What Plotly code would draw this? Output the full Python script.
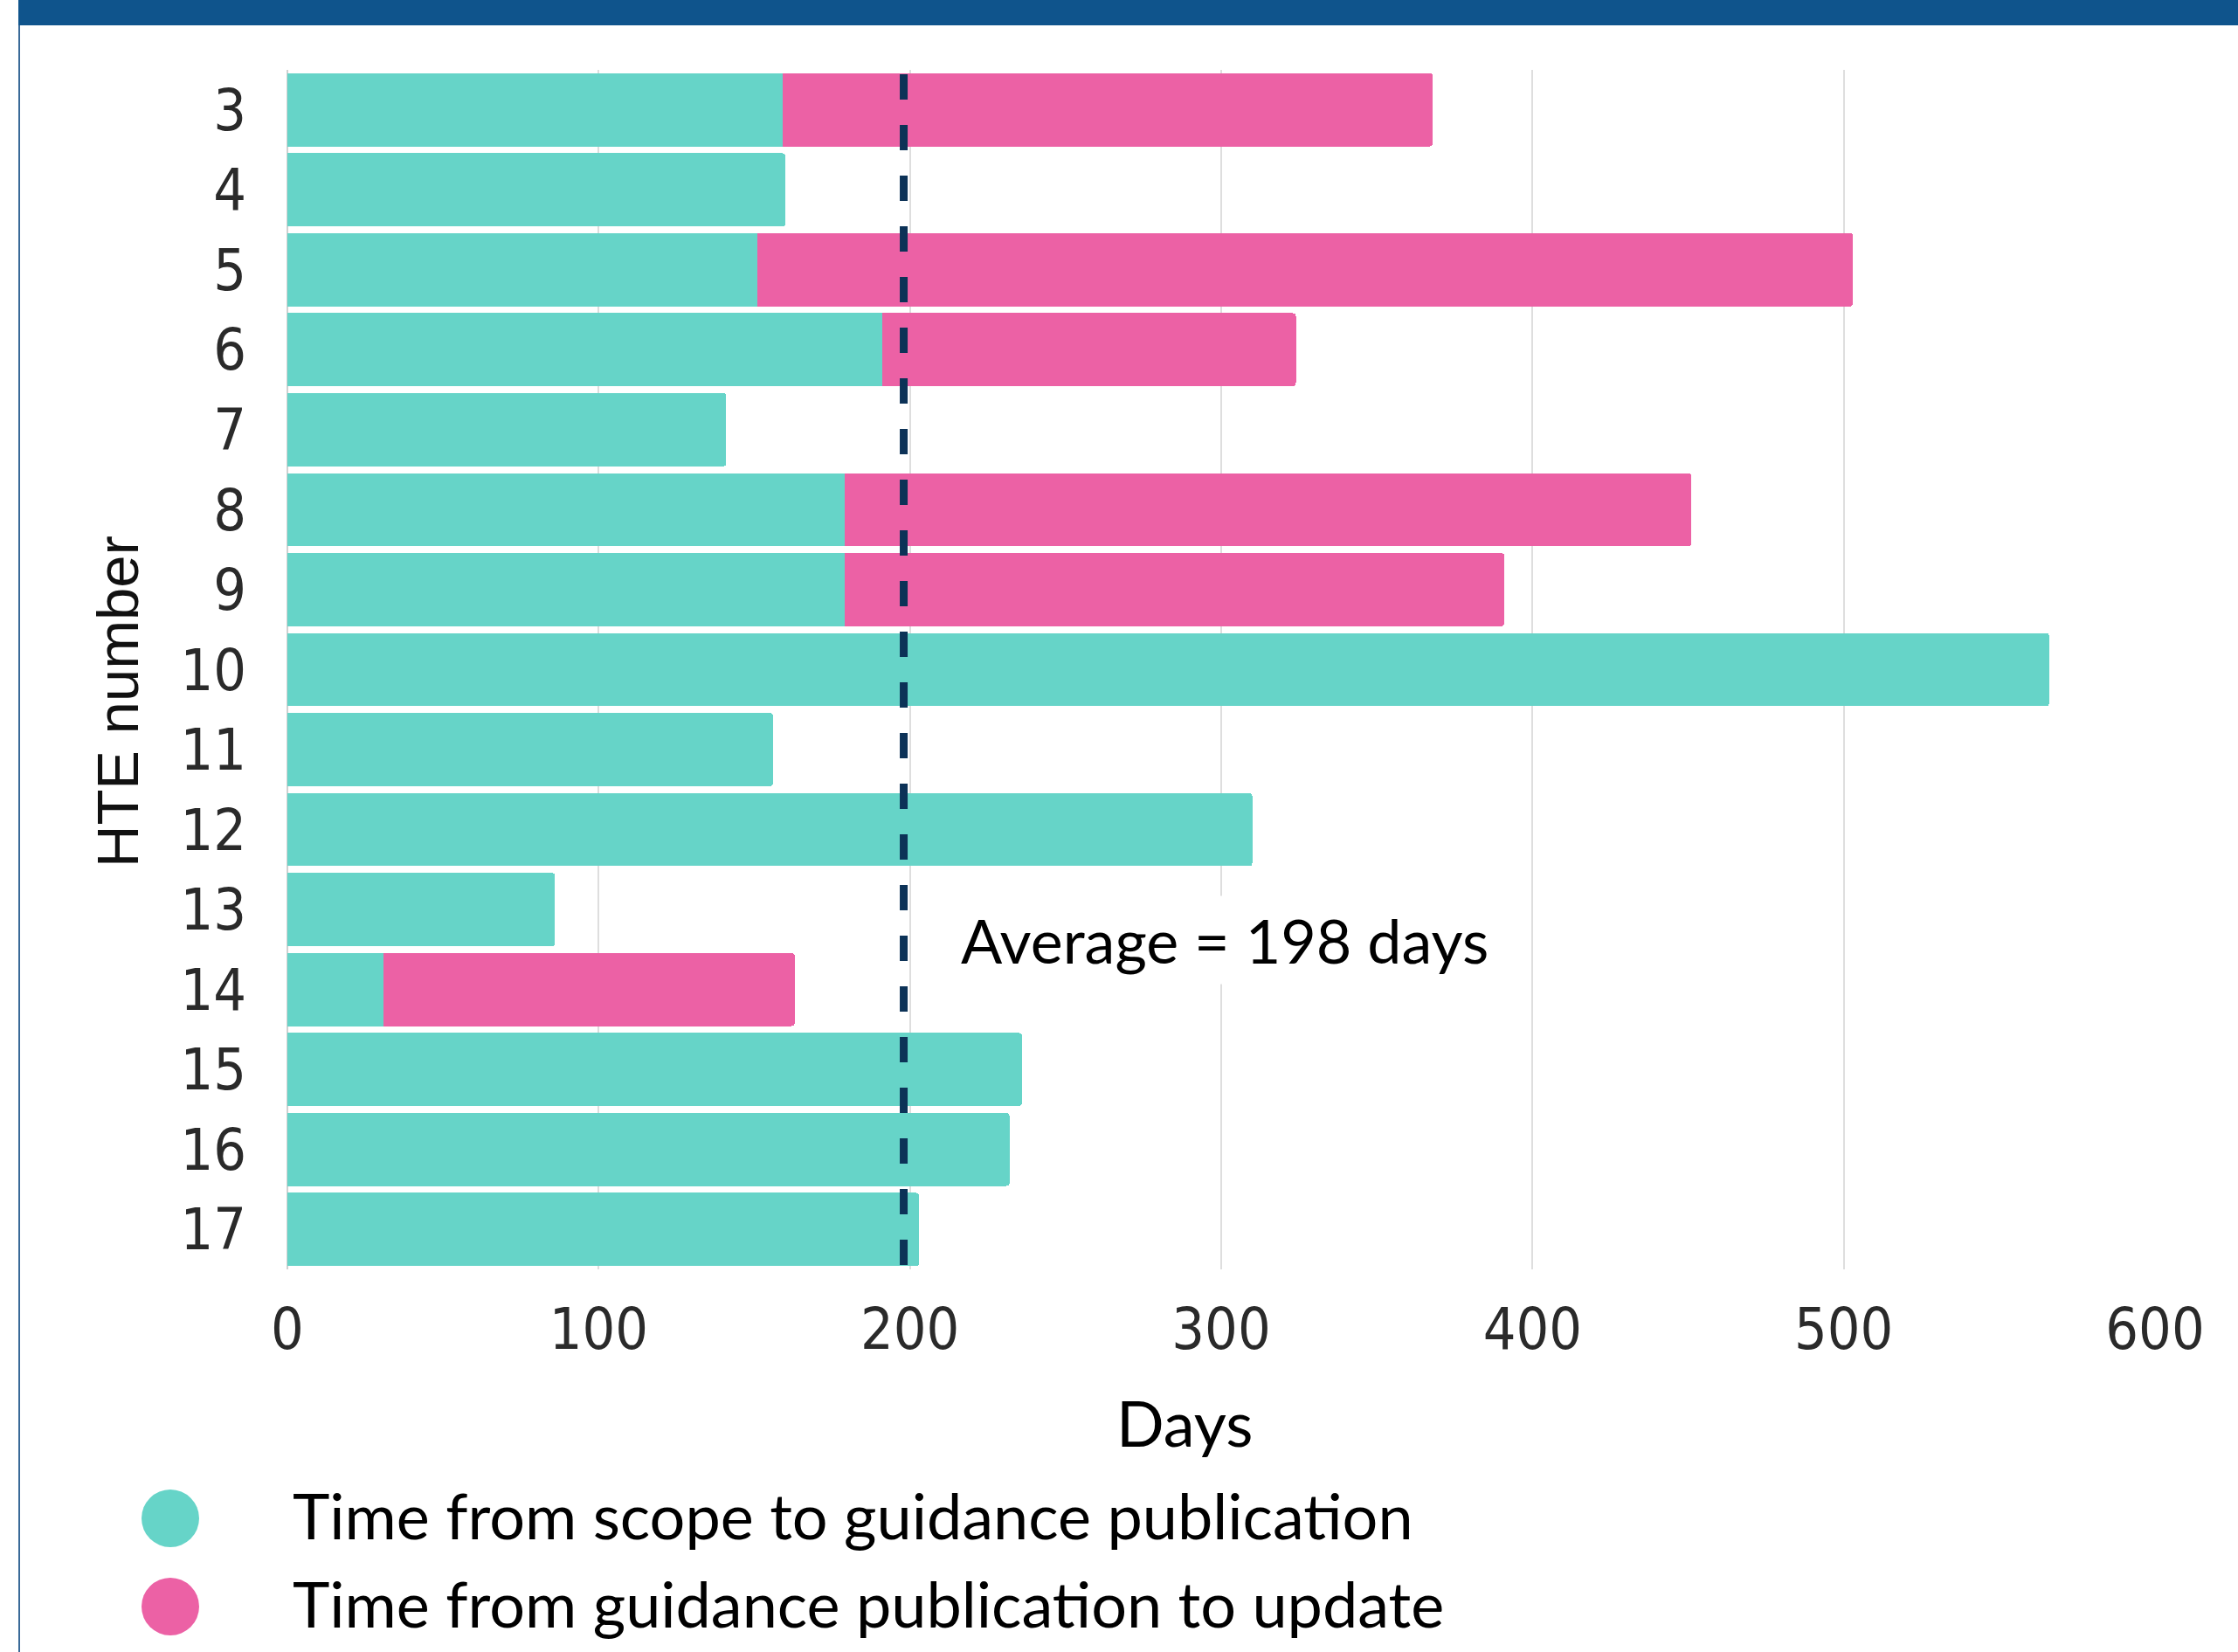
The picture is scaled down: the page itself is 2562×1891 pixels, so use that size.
import plotly.graph_objects as go

# HTE numbers shown on the vertical axis (top to bottom)
hte_numbers = ["3", "4", "5", "6", "7", "8", "9", "10", "11", "12", "13", "14", "15", "16", "17"]

# Days from scope to guidance publication
scope_to_publication = [159, 160, 151, 191, 141, 179, 179, 566, 156, 310, 86, 31, 236, 232, 203]

# Days from guidance publication to update (0 = no update yet)
publication_to_update = [209, 0, 352, 133, 0, 272, 212, 0, 0, 0, 0, 132, 0, 0, 0]

average_days = 198
x_ticks = [0, 100, 200, 300, 400, 500, 600]

series_names = [
    "Time from scope to guidance publication",
    "Time from guidance publication to update",
]

TEAL = "#66D4C8"
PINK = "#EC61A5"
HEADER_BLUE = "#0F548C"
DASH_NAVY = "#0C3257"
TEXT_FONT = "Lato, Open Sans, sans-serif"
TICK_FONT = "DejaVu Sans Condensed, Liberation Sans Narrow, Liberation Sans, sans-serif"

W, H = 2562, 1891
L, R, T, B = 329, 95, 80, 438
PW, PH = W - L - R, H - T - B


def px(x):
    return (x - L) / PW


def py(y):
    return (H - B - y) / PH


fig = go.Figure()
fig.add_trace(go.Bar(
    y=hte_numbers, x=scope_to_publication, orientation="h",
    marker=dict(color=TEAL, line=dict(width=0)), name=series_names[0],
    showlegend=False,
))
fig.add_trace(go.Bar(
    y=hte_numbers, x=publication_to_update, orientation="h",
    marker=dict(color=PINK, line=dict(width=0)), name=series_names[1],
    showlegend=False,
))

shapes = [
    # header band and left rule
    dict(type="rect", xref="paper", yref="paper", x0=px(21), x1=px(W + 5),
         y0=py(0) + 0.01, y1=py(29), fillcolor=HEADER_BLUE, line=dict(width=0), layer="above"),
    dict(type="line", xref="paper", yref="paper", x0=px(22), x1=px(22),
         y0=py(29), y1=py(H + 5), line=dict(color="#3A6A98", width=2)),
    # average marker
    dict(type="line", xref="x", yref="paper", x0=average_days, x1=average_days,
         y0=py(85), y1=0, line=dict(color=DASH_NAVY, width=9, dash="29px,29px"),
         layer="above"),
]

legend_colors = [TEAL, PINK]
legend_y = [1738, 1839]
for c, yc in zip(legend_colors, legend_y):
    shapes.append(dict(type="circle", xref="paper", yref="paper",
                       x0=px(195 - 33), x1=px(195 + 33), y0=py(yc + 33), y1=py(yc - 33),
                       fillcolor=c, line=dict(width=0)))

annotations = [
    dict(xref="paper", yref="paper", x=px(1091), y=py(1076),
         text=f"Average = {average_days} days", showarrow=False,
         xanchor="left", yanchor="middle", bgcolor="white", borderpad=8,
         font=dict(family=TEXT_FONT, size=70, color="#000000")),
    dict(xref="paper", yref="paper", x=px(1356), y=py(1628), text="Days",
         showarrow=False, xanchor="center", yanchor="middle",
         font=dict(family=TEXT_FONT, size=72, color="#000000")),
    dict(xref="paper", yref="paper", x=px(135), y=py(803), text="HTE number",
         textangle=-90, showarrow=False, xanchor="center", yanchor="middle",
         font=dict(family="Liberation Sans, Arial, sans-serif", size=67, color="#111111")),
]
for name, yc in zip(series_names, legend_y):
    annotations.append(dict(xref="paper", yref="paper", x=px(333), y=py(yc - 4),
                            text=name, showarrow=False, xanchor="left", yanchor="middle",
                            font=dict(family=TEXT_FONT, size=72, color="#000000")))

fig.update_layout(
    width=W, height=H,
    margin=dict(l=L, r=R, t=T, b=B, pad=0),
    paper_bgcolor="white", plot_bgcolor="white",
    barmode="stack", bargap=0.085, barcornerradius=4,
    showlegend=False,
    shapes=shapes, annotations=annotations,
    xaxis=dict(
        range=[0, 600], tickvals=x_ticks, showgrid=True, gridcolor="#DEDEDE", gridwidth=2,
        zeroline=True, zerolinecolor="#D0D0D0", zerolinewidth=2,
        showline=False, ticks="", ticklabelstandoff=24,
        tickfont=dict(family=TICK_FONT, size=66, color="#2A2A2A"),
    ),
    yaxis=dict(
        type="category", categoryorder="array", categoryarray=hte_numbers,
        autorange="reversed", showgrid=False, zeroline=False, showline=False,
        ticks="", ticklabelstandoff=46,
        tickfont=dict(family=TICK_FONT, size=66, color="#2A2A2A"),
    ),
)

fig.write_html("out.html")
